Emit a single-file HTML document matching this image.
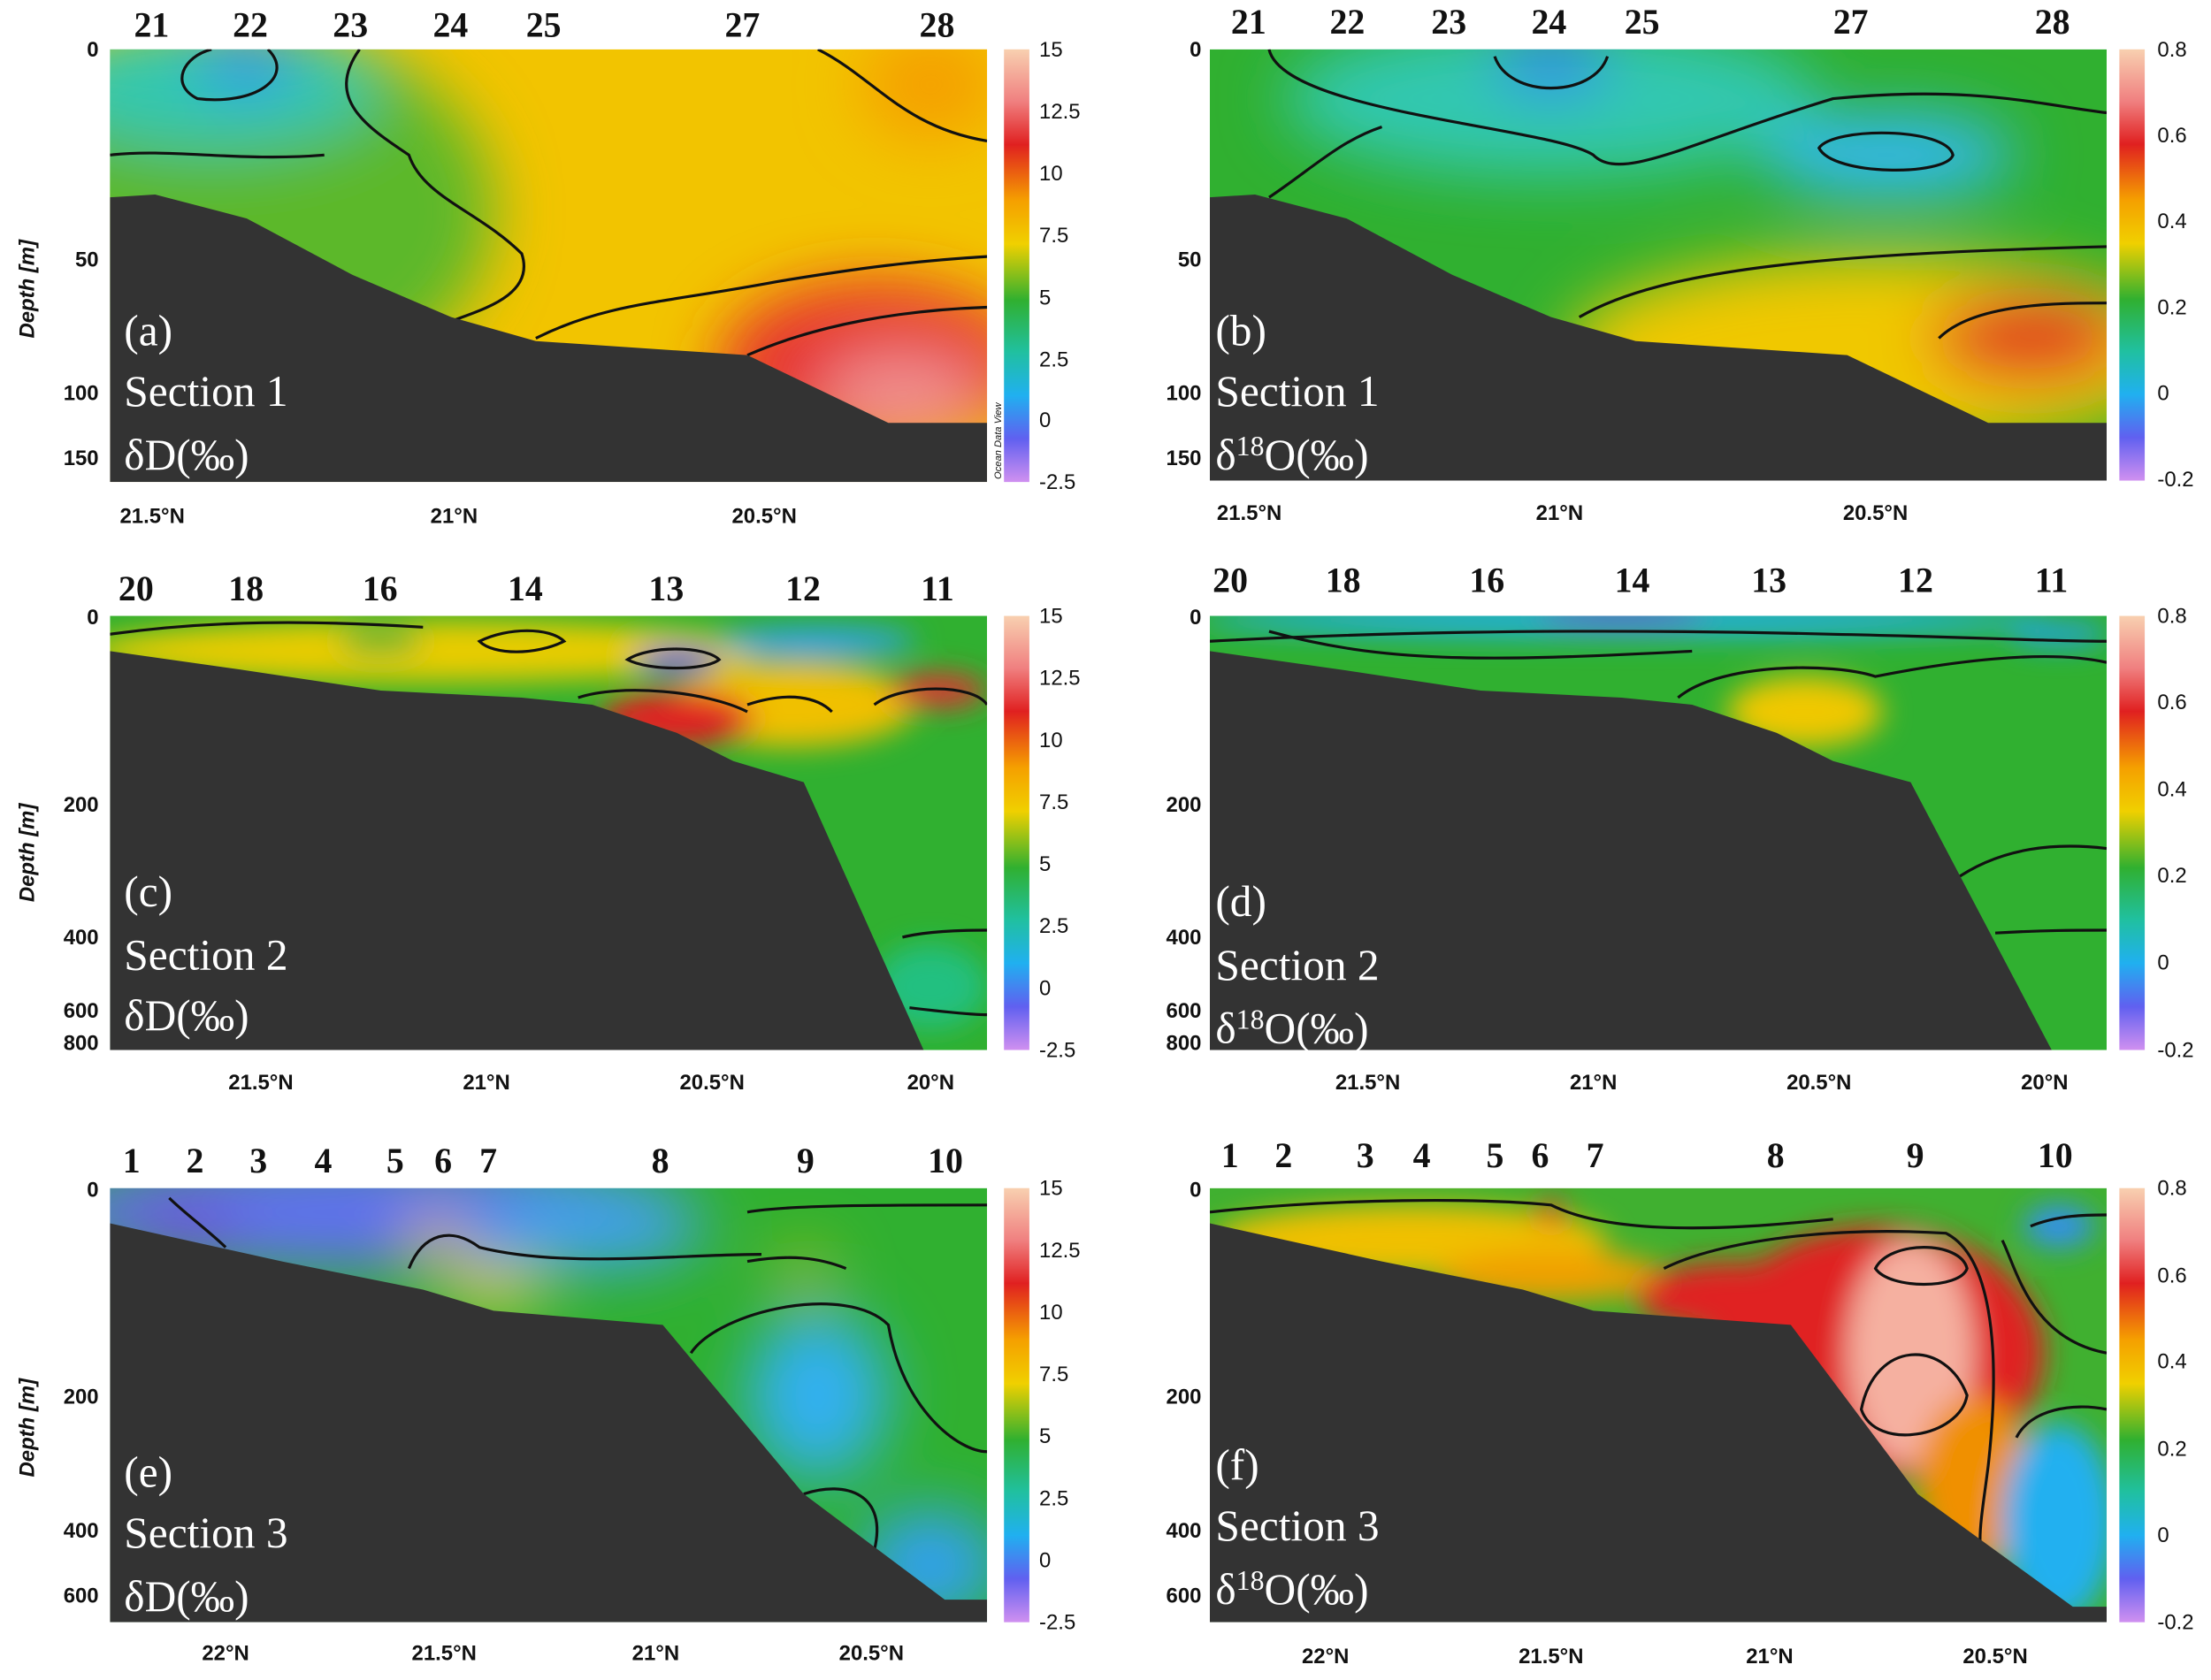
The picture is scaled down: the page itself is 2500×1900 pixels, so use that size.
<!DOCTYPE html>
<html><head><meta charset="utf-8"><style>
html,body{margin:0;padding:0;background:#fff;}
svg{display:block}
.st{font-family:"Liberation Serif",serif;font-size:25px;font-weight:bold;fill:#111}
.pl{font-family:"Liberation Serif",serif;font-size:31px;fill:#fff}
.ax{font-family:"Liberation Sans",sans-serif;font-size:15px;font-weight:bold;fill:#111}
.cb{font-family:"Liberation Sans",sans-serif;font-size:15px;fill:#111}
.yl{font-family:"Liberation Sans",sans-serif;font-size:15px;font-weight:bold;font-style:italic;fill:#111}
.ct{fill:none;stroke:#111;stroke-width:2}
.odv{font-family:"Liberation Sans",sans-serif;font-size:7px;font-style:italic;fill:#111}
</style></head><body>
<svg width="2500" height="1900" viewBox="0 0 1568 1192" preserveAspectRatio="none" xmlns="http://www.w3.org/2000/svg">
<defs>
<filter id="bl" x="-50%" y="-50%" width="200%" height="200%"><feGaussianBlur stdDeviation="22"/></filter>
<filter id="bs" x="-50%" y="-50%" width="200%" height="200%"><feGaussianBlur stdDeviation="10"/></filter>
<linearGradient id="cbg" x1="0" y1="0" x2="0" y2="1">
<stop offset="0" stop-color="#f8d0b0"/><stop offset="0.12" stop-color="#f08080"/><stop offset="0.22" stop-color="#e02020"/><stop offset="0.35" stop-color="#f5a000"/><stop offset="0.45" stop-color="#f0d000"/><stop offset="0.58" stop-color="#30b030"/><stop offset="0.7" stop-color="#20c0a0"/><stop offset="0.8" stop-color="#20b0f0"/><stop offset="0.9" stop-color="#6060f0"/><stop offset="1" stop-color="#d090f0"/>
</linearGradient>
<clipPath id="ca"><rect x="78" y="35" width="622" height="307"/></clipPath>
<clipPath id="cbp"><rect x="858" y="35" width="636" height="306"/></clipPath>
<clipPath id="cc"><rect x="78" y="437" width="622" height="308"/></clipPath>
<clipPath id="cd"><rect x="858" y="437" width="636" height="308"/></clipPath>
<clipPath id="ce"><rect x="78" y="843" width="622" height="308"/></clipPath>
<clipPath id="cf"><rect x="858" y="843" width="636" height="308"/></clipPath>
</defs>

<!-- Panel a -->
<g clip-path="url(#ca)">
<rect x="78" y="35" width="622" height="307" fill="#f2c400"/>
<g filter="url(#bl)">
<ellipse cx="180" cy="150" rx="170" ry="130" fill="#5cb82c"/>
<ellipse cx="150" cy="60" rx="120" ry="45" fill="#30c8b0"/>
<ellipse cx="175" cy="45" rx="35" ry="20" fill="#3090f0"/>
<ellipse cx="660" cy="60" rx="50" ry="40" fill="#f5a000"/>
<ellipse cx="620" cy="260" rx="110" ry="60" fill="#e63030"/>
<ellipse cx="640" cy="280" rx="60" ry="30" fill="#f09090"/>
</g>
<path class="ct" d="M78,110 C120,105 170,115 230,110"/>
<path class="ct" d="M190,35 C210,55 180,75 140,70 C120,60 130,40 150,35"/>
<path class="ct" d="M255,35 C230,70 260,90 290,110 C300,140 340,150 370,180 C380,210 340,220 320,228"/>
<path class="ct" d="M380,240 C430,215 470,215 550,200 C610,190 650,185 700,182"/>
<path class="ct" d="M530,252 C580,230 640,220 700,218"/>
<path class="ct" d="M580,35 C620,55 640,90 700,100"/>
<path fill="#333" d="M78,140 L110,138 L175,155 L250,195 L320,225 L380,242 L530,252 L630,300 L700,300 L700,342 L78,342Z"/>
</g>
<text class="odv" transform="translate(710,340) rotate(-90)">Ocean Data View</text>
<!-- Panel b -->
<g clip-path="url(#cbp)">
<rect x="858" y="35" width="636" height="306" fill="#30b030"/>
<g filter="url(#bl)">
<ellipse cx="1100" cy="70" rx="190" ry="55" fill="#30c8b0"/>
<ellipse cx="1100" cy="45" rx="40" ry="20" fill="#3080f0"/>
<ellipse cx="1340" cy="110" rx="90" ry="30" fill="#30b8f0"/>
<ellipse cx="1330" cy="250" rx="220" ry="70" fill="#f0c800"/>
<ellipse cx="1440" cy="240" rx="70" ry="30" fill="#e02020"/>
</g>
<path class="ct" d="M1060,40 C1070,70 1130,70 1140,40"/>
<path class="ct" d="M900,35 C910,80 1100,90 1130,110 C1150,130 1200,100 1300,70 C1400,60 1450,75 1494,80"/>
<path class="ct" d="M1290,105 C1300,90 1380,90 1385,110 C1380,125 1300,125 1290,105Z"/>
<path class="ct" d="M1120,225 C1180,190 1300,180 1494,175"/>
<path class="ct" d="M1375,240 C1400,215 1460,215 1494,215"/>
<path class="ct" d="M900,140 C930,120 950,100 980,90"/>
<path fill="#333" d="M858,140 L890,138 L955,155 L1030,195 L1100,225 L1160,242 L1310,252 L1410,300 L1494,300 L1494,341 L858,341Z"/>
</g>
<!-- Panel c -->
<g clip-path="url(#cc)">
<rect x="78" y="437" width="622" height="308" fill="#30b030"/>
<g filter="url(#bs)">
<ellipse cx="300" cy="462" rx="240" ry="22" fill="#e8cc00"/>
<ellipse cx="560" cy="500" rx="90" ry="30" fill="#f0c000"/>
<ellipse cx="480" cy="510" rx="55" ry="20" fill="#e02020"/>
<ellipse cx="480" cy="468" rx="30" ry="8" fill="#6040e0"/>
<ellipse cx="270" cy="455" rx="30" ry="8" fill="#30b030"/>
<ellipse cx="665" cy="490" rx="35" ry="12" fill="#e03030"/>
<ellipse cx="580" cy="455" rx="70" ry="10" fill="#30a0f0"/>
<ellipse cx="660" cy="700" rx="40" ry="30" fill="#20c080"/>
</g>
<path class="ct" d="M78,450 C150,440 220,440 300,445"/>
<path class="ct" d="M340,455 C360,445 390,445 400,455 C380,465 350,465 340,455Z"/>
<path class="ct" d="M445,468 C460,458 500,458 510,468 C500,476 460,476 445,468Z"/>
<path class="ct" d="M410,495 C440,485 500,490 530,505"/>
<path class="ct" d="M530,500 C560,490 580,495 590,505"/>
<path class="ct" d="M620,500 C640,485 690,485 700,500"/>
<path class="ct" d="M640,665 C660,660 690,660 700,660"/>
<path class="ct" d="M645,715 C670,718 690,720 700,720"/>
<path fill="#333" d="M78,462 L170,475 L270,490 L370,495 L420,500 L480,520 L520,540 L570,555 L655,745 L78,745Z"/>
</g>
<!-- Panel d -->
<g clip-path="url(#cd)">
<rect x="858" y="437" width="636" height="308" fill="#30b030"/>
<g filter="url(#bs)">
<ellipse cx="1150" cy="440" rx="300" ry="12" fill="#20b0e0"/>
<ellipse cx="1150" cy="437" rx="60" ry="6" fill="#6040e0"/>
<ellipse cx="1280" cy="505" rx="55" ry="25" fill="#f0c800"/>
<ellipse cx="1460" cy="450" rx="35" ry="8" fill="#20a0f0"/>
</g>
<path class="ct" d="M858,455 C950,450 1100,445 1300,450 C1400,452 1450,455 1494,455"/>
<path class="ct" d="M900,448 C980,470 1050,470 1200,462"/>
<path class="ct" d="M1190,495 C1220,470 1300,470 1330,480 C1380,470 1450,460 1494,470"/>
<path class="ct" d="M1385,625 C1420,600 1460,598 1494,602"/>
<path class="ct" d="M1415,662 C1450,660 1470,660 1494,660"/>
<path fill="#333" d="M858,462 L950,475 L1050,490 L1150,495 L1200,500 L1260,520 L1300,540 L1355,555 L1455,745 L858,745Z"/>
</g>
<!-- Panel e -->
<g clip-path="url(#ce)">
<rect x="78" y="843" width="622" height="308" fill="#30b030"/>
<g filter="url(#bl)">
<ellipse cx="260" cy="860" rx="230" ry="40" fill="#6070f0"/>
<ellipse cx="420" cy="870" rx="80" ry="30" fill="#40a0f0"/>
<ellipse cx="130" cy="870" rx="40" ry="20" fill="#7050e0"/>
<ellipse cx="580" cy="990" rx="50" ry="60" fill="#30b0f0"/>
<ellipse cx="660" cy="1110" rx="50" ry="40" fill="#30a0f0"/>
<ellipse cx="570" cy="900" rx="20" ry="10" fill="#f0c000"/>
<ellipse cx="350" cy="915" rx="40" ry="15" fill="#e8d000"/>
<ellipse cx="310" cy="880" rx="20" ry="15" fill="#e0c000"/>
</g>
<path class="ct" d="M120,850 C130,860 150,875 160,885"/>
<path class="ct" d="M290,900 C300,875 320,870 340,885 C400,900 480,890 540,890"/>
<path class="ct" d="M530,895 C560,890 580,892 600,900"/>
<path class="ct" d="M530,860 C560,855 620,855 700,855"/>
<path class="ct" d="M490,960 C510,930 600,910 630,940 C640,1000 680,1030 700,1030"/>
<path class="ct" d="M570,1060 C600,1050 630,1060 620,1100"/>
<path fill="#333" d="M78,868 L200,895 L300,915 L350,930 L470,940 L570,1060 L670,1135 L700,1135 L700,1151 L78,1151Z"/>
</g>
<!-- Panel f -->
<g clip-path="url(#cf)">
<rect x="858" y="843" width="636" height="308" fill="#40b030"/>
<g filter="url(#bs)">
<ellipse cx="1000" cy="880" rx="140" ry="25" fill="#f0c000"/>
<ellipse cx="1100" cy="905" rx="80" ry="18" fill="#f0a000"/>
<ellipse cx="1330" cy="960" rx="120" ry="90" fill="#e02020"/>
<ellipse cx="1230" cy="920" rx="70" ry="25" fill="#e02020"/>
<ellipse cx="1355" cy="960" rx="45" ry="80" fill="#f5b0a0"/>
<ellipse cx="1400" cy="1050" rx="40" ry="60" fill="#f09000"/>
<ellipse cx="1460" cy="1080" rx="40" ry="70" fill="#20b0f0"/>
<ellipse cx="1460" cy="870" rx="25" ry="15" fill="#3090f0"/>
<ellipse cx="1100" cy="860" rx="12" ry="8" fill="#e02020"/>
</g>
<path class="ct" d="M858,860 C950,850 1050,850 1100,855 C1150,880 1250,870 1300,865"/>
<path class="ct" d="M1180,900 C1220,880 1300,870 1380,875 C1410,890 1420,950 1410,1040 C1405,1080 1400,1100 1410,1115"/>
<path class="ct" d="M1330,900 C1340,880 1390,880 1395,900 C1390,915 1340,915 1330,900Z"/>
<path class="ct" d="M1320,1000 C1330,950 1380,950 1395,990 C1390,1020 1330,1030 1320,1000Z"/>
<path class="ct" d="M1420,880 C1430,900 1440,950 1494,960"/>
<path class="ct" d="M1430,1020 C1440,1000 1470,995 1494,1000"/>
<path class="ct" d="M1440,870 C1460,862 1480,862 1494,862"/>
<path fill="#333" d="M858,868 L980,895 L1080,915 L1130,930 L1270,940 L1360,1060 L1470,1140 L1494,1140 L1494,1151 L858,1151Z"/>
</g>

<!-- Colorbars -->
<g>
<rect x="712" y="35" width="18" height="307" fill="url(#cbg)"/>
<rect x="1503" y="35" width="18" height="306" fill="url(#cbg)"/>
<rect x="712" y="437" width="18" height="308" fill="url(#cbg)"/>
<rect x="1503" y="437" width="18" height="308" fill="url(#cbg)"/>
<rect x="712" y="843" width="18" height="308" fill="url(#cbg)"/>
<rect x="1503" y="843" width="18" height="308" fill="url(#cbg)"/>
</g>
<g class="cb">
<text x="737" y="40">15</text><text x="737" y="84">12.5</text><text x="737" y="128">10</text><text x="737" y="172">7.5</text><text x="737" y="216">5</text><text x="737" y="260">2.5</text><text x="737" y="303">0</text><text x="737" y="347">-2.5</text>
<text x="737" y="442">15</text><text x="737" y="486">12.5</text><text x="737" y="530">10</text><text x="737" y="574">7.5</text><text x="737" y="618">5</text><text x="737" y="662">2.5</text><text x="737" y="706">0</text><text x="737" y="750">-2.5</text>
<text x="737" y="848">15</text><text x="737" y="892">12.5</text><text x="737" y="936">10</text><text x="737" y="980">7.5</text><text x="737" y="1024">5</text><text x="737" y="1068">2.5</text><text x="737" y="1112">0</text><text x="737" y="1156">-2.5</text>
<text x="1530" y="40">0.8</text><text x="1530" y="101">0.6</text><text x="1530" y="162">0.4</text><text x="1530" y="223">0.2</text><text x="1530" y="284">0</text><text x="1530" y="345">-0.2</text>
<text x="1530" y="442">0.8</text><text x="1530" y="503">0.6</text><text x="1530" y="565">0.4</text><text x="1530" y="626">0.2</text><text x="1530" y="688">0</text><text x="1530" y="750">-0.2</text>
<text x="1530" y="848">0.8</text><text x="1530" y="910">0.6</text><text x="1530" y="971">0.4</text><text x="1530" y="1033">0.2</text><text x="1530" y="1094">0</text><text x="1530" y="1156">-0.2</text>
</g>

<!-- Station numbers -->
<g class="st">
<text x="95" y="26">21</text><text x="165" y="26">22</text><text x="236" y="26">23</text><text x="307" y="26">24</text><text x="373" y="26">25</text><text x="514" y="26">27</text><text x="652" y="26">28</text>
<text x="873" y="24">21</text><text x="943" y="24">22</text><text x="1015" y="24">23</text><text x="1086" y="24">24</text><text x="1152" y="24">25</text><text x="1300" y="24">27</text><text x="1443" y="24">28</text>
<text x="84" y="426">20</text><text x="162" y="426">18</text><text x="257" y="426">16</text><text x="360" y="426">14</text><text x="460" y="426">13</text><text x="557" y="426">12</text><text x="653" y="426">11</text>
<text x="860" y="420">20</text><text x="940" y="420">18</text><text x="1042" y="420">16</text><text x="1145" y="420">14</text><text x="1242" y="420">13</text><text x="1346" y="420">12</text><text x="1443" y="420">11</text>
<text x="87" y="832">1</text><text x="132" y="832">2</text><text x="177" y="832">3</text><text x="223" y="832">4</text><text x="274" y="832">5</text><text x="308" y="832">6</text><text x="340" y="832">7</text><text x="462" y="832">8</text><text x="565" y="832">9</text><text x="658" y="832">10</text>
<text x="866" y="828">1</text><text x="904" y="828">2</text><text x="962" y="828">3</text><text x="1002" y="828">4</text><text x="1054" y="828">5</text><text x="1086" y="828">6</text><text x="1125" y="828">7</text><text x="1253" y="828">8</text><text x="1352" y="828">9</text><text x="1445" y="828">10</text>
</g>

<!-- Panel labels -->
<g class="pl">
<text x="88" y="245">(a)</text><text x="88" y="288">Section 1</text><text x="88" y="333">δD(‰)</text>
<text x="862" y="245">(b)</text><text x="862" y="288">Section 1</text><text x="862" y="333">δ<tspan font-size="20" dy="-10">18</tspan><tspan dy="10">O(‰)</tspan></text>
<text x="88" y="643">(c)</text><text x="88" y="688">Section 2</text><text x="88" y="731">δD(‰)</text>
<text x="862" y="650">(d)</text><text x="862" y="695">Section 2</text><text x="862" y="740">δ<tspan font-size="20" dy="-10">18</tspan><tspan dy="10">O(‰)</tspan></text>
<text x="88" y="1055">(e)</text><text x="88" y="1098">Section 3</text><text x="88" y="1143">δD(‰)</text>
<text x="862" y="1050">(f)</text><text x="862" y="1093">Section 3</text><text x="862" y="1138">δ<tspan font-size="20" dy="-10">18</tspan><tspan dy="10">O(‰)</tspan></text>
</g>

<!-- Depth axis -->
<g class="ax" text-anchor="end">
<text x="70" y="40">0</text><text x="70" y="189">50</text><text x="70" y="284">100</text><text x="70" y="330">150</text>
<text x="852" y="40">0</text><text x="852" y="189">50</text><text x="852" y="284">100</text><text x="852" y="330">150</text>
<text x="70" y="443">0</text><text x="70" y="576">200</text><text x="70" y="670">400</text><text x="70" y="722">600</text><text x="70" y="745">800</text>
<text x="852" y="443">0</text><text x="852" y="576">200</text><text x="852" y="670">400</text><text x="852" y="722">600</text><text x="852" y="745">800</text>
<text x="70" y="849">0</text><text x="70" y="996">200</text><text x="70" y="1091">400</text><text x="70" y="1137">600</text>
<text x="852" y="849">0</text><text x="852" y="996">200</text><text x="852" y="1091">400</text><text x="852" y="1137">600</text>
</g>
<text class="yl" transform="translate(24,240) rotate(-90)">Depth [m]</text>
<text class="yl" transform="translate(24,640) rotate(-90)">Depth [m]</text>
<text class="yl" transform="translate(24,1048) rotate(-90)">Depth [m]</text>

<!-- Lat axis -->
<g class="ax" text-anchor="middle">
<text x="108" y="371">21.5°N</text><text x="322" y="371">21°N</text><text x="542" y="371">20.5°N</text>
<text x="886" y="369">21.5°N</text><text x="1106" y="369">21°N</text><text x="1330" y="369">20.5°N</text>
<text x="185" y="773">21.5°N</text><text x="345" y="773">21°N</text><text x="505" y="773">20.5°N</text><text x="660" y="773">20°N</text>
<text x="970" y="773">21.5°N</text><text x="1130" y="773">21°N</text><text x="1290" y="773">20.5°N</text><text x="1450" y="773">20°N</text>
<text x="160" y="1178">22°N</text><text x="315" y="1178">21.5°N</text><text x="465" y="1178">21°N</text><text x="618" y="1178">20.5°N</text>
<text x="940" y="1180">22°N</text><text x="1100" y="1180">21.5°N</text><text x="1255" y="1180">21°N</text><text x="1415" y="1180">20.5°N</text>
</g>
</svg>
</body></html>
